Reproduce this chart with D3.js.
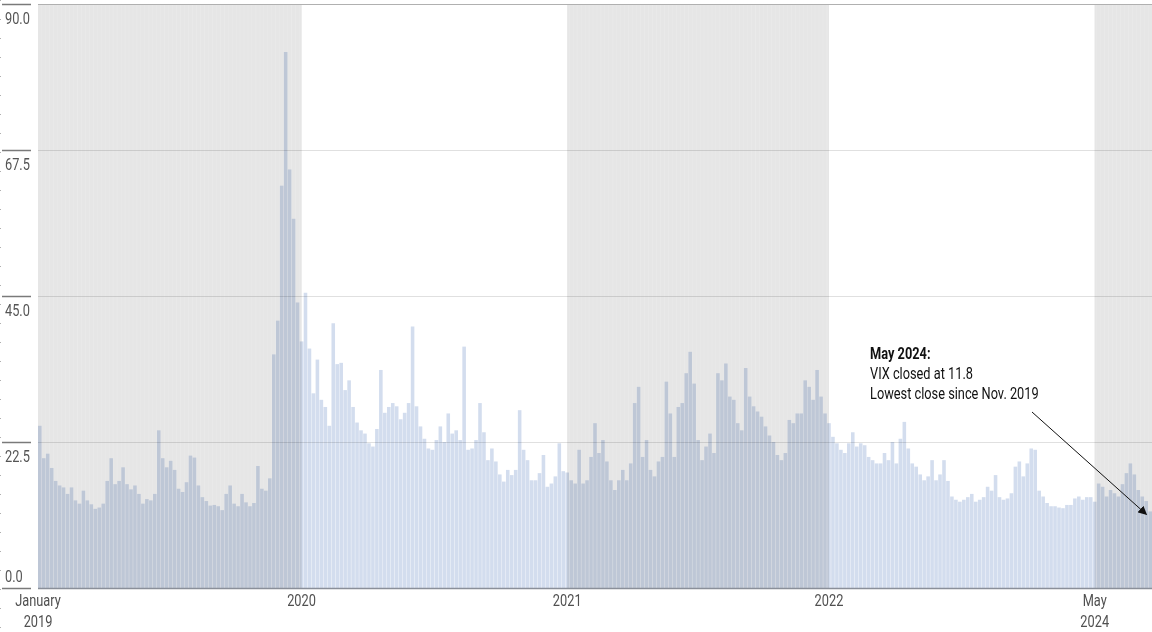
<!DOCTYPE html>
<html>
<head>
<meta charset="utf-8">
<script src="https://cdn.jsdelivr.net/npm/d3@7"></script>
<style>
  html, body { margin: 0; padding: 0; background: #fff; }
  svg { display: block; }
  text { font-family: "Roboto", "Liberation Sans", sans-serif; }
</style>
</head>
<body>
<svg id="chart" width="1152" height="632"></svg>
<script>
// Weekly VIX closes (approx.), Jan 2019 – May 2024
const vixWeekly = [
  25, 20, 20.7, 18.5, 16.5, 15.8, 15.5, 14.5, 15.5, 13.5,
  13, 15, 13.5, 12.9, 12.2, 12.4, 13, 16.5, 20, 16,
  16.5, 18.6, 16, 15.2, 15.8, 14.5, 13, 13.7, 13.5, 14.5,
  24.3, 20, 18.6, 19.6, 18.2, 15.3, 14.8, 16.3, 20.4, 20.1,
  15.8, 14, 13.4, 12.7, 12.8, 12.6, 12, 14.5, 15.8, 13,
  12.6, 14.5, 13.2, 12.6, 13.1, 18.8, 15.3, 15, 16.9, 36,
  41.2, 62, 82.6, 64.5, 56.9, 44, 38, 45.5, 36.9, 30,
  35.2, 29, 27.9, 25, 40.8, 34.5, 34.7, 30.5, 32, 27.9,
  25.5, 24.3, 23.8, 22.3, 21.8, 24.5, 33.6, 27, 27.9, 28.5,
  28, 26, 27, 28.5, 40.3, 28, 24.9, 23, 21.5, 21.3,
  22.8, 24.9, 22.5, 26.9, 23.8, 24.3, 22.8, 37.2, 21.3, 21.5,
  22.8, 28.5, 24, 19.7, 21.5, 19.5, 17.5, 16.4, 18.2, 17.4,
  18.2, 27.4, 21.3, 19.7, 16.6, 16.6, 17.7, 20.5, 15.6, 16.1,
  17.2, 22.3, 18, 17.8, 16.6, 16.1, 21.3, 16.1, 16.6, 20.2,
  25.4, 20.8, 22.8, 19.5, 16.6, 15.1, 16.6, 18.2, 16.6, 19.2,
  28.5, 31, 20.2, 22.8, 18.2, 17.2, 19.5, 20.2, 31.8, 26.9,
  20.2, 27.9, 28.5, 33.1, 36.4, 31.5, 22.8, 19.7, 21.8, 23.8,
  20.8, 33.1, 32, 34.6, 29.5, 29, 25.4, 24.3, 33.9, 29.5,
  28, 27.2, 26.4, 24.9, 23.5, 22.5, 20.5, 19.7, 20.8, 25.9,
  25.4, 26.9, 26.9, 32, 31, 29, 33.6, 29.5, 26.9, 25.4,
  23.3, 22.3, 21.3, 20.8, 22.3, 24, 21.8, 22.3, 22, 20.2,
  19.7, 19.2, 19.2, 20.8, 19.7, 22.5, 19.2, 23, 25.6, 21.5,
  19.2, 18.7, 17.5, 16.6, 17.2, 19.7, 16.6, 17.5, 19.7, 16.5,
  14.1, 13.6, 13.3, 13.6, 14, 14.5, 13.3, 13.6, 14, 15.6,
  15, 17.4, 14, 13.6, 13.8, 14.6, 18.7, 19.5, 17.2, 19.2,
  21.5, 21.3, 15, 14.1, 13.1, 12.6, 12.6, 12.4, 12.3, 12.8,
  12.8, 13.8, 14.1, 13.6, 14, 14, 13.3, 16.1, 15.6, 14.1,
  15.1, 14.6, 14.1, 16, 17.7, 19.2, 17.5, 15.1, 14.1, 13.4,
  11.8
];
// x-axis category ticks (week index) and their labels
const tickWeeks = [0, 66, 133, 199, 266];
const tickLabels = [["January", "2019"], ["2020"], ["2021"], ["2022"], ["May", "2024"]];
// y-axis ticks
const yTicks = [0, 22.5, 45, 67.5, 90];
const annotationLines = ["May 2024:", "VIX closed at 11.8", "Lowest close since Nov. 2019"];

const svg = d3.select("#chart");
const W = 1152, H = 632;
const plotLeft = 38, plotRight = 1152, plotTop = 4, plotBottom = 588;
const CONDENSE = 0.8;

const idx = d3.range(vixWeekly.length);
const x = d3.scaleBand().domain(idx).range([plotLeft, plotRight]).paddingInner(0.1).paddingOuter(0);
const y = d3.scaleLinear().domain([0, 90]).range([plotBottom, plotTop]);
const tickX = i => tickWeeks[i] === 0 ? plotLeft : x(tickWeeks[i]) + x.bandwidth() / 2;

// condensed text helper
function condText(g, px, py, lines, opts) {
  const t = g.append("text")
    .attr("transform", `translate(${px},${py}) scale(${CONDENSE},1)`)
    .attr("font-size", opts.size || 16)
    .attr("fill", opts.fill || "#555")
    .attr("text-anchor", opts.anchor || "start");
  lines.forEach((line, j) => {
    t.append("tspan").attr("x", 0).attr("dy", j === 0 ? 0 : (opts.lh || 20))
      .attr("font-weight", opts.boldFirst && j === 0 ? "bold" : "normal")
      .text(line);
  });
  return t;
}

// faint dotted guide at far left
svg.append("line")
  .attr("x1", 0.5).attr("x2", 0.5).attr("y1", 0).attr("y2", H)
  .attr("stroke", "#b0b0b0").attr("stroke-dasharray", "1 18");

// shaded periods: alternate segments between ticks
const bandEdges = tickWeeks.map((t, i) => tickX(i)).concat([plotRight]);
const bands = [];
for (let i = 0; i < bandEdges.length - 1; i += 2) bands.push([bandEdges[i], bandEdges[i + 1]]);

const defs = svg.append("defs");
const clip = defs.append("clipPath").attr("id", "bandClip");
clip.selectAll("rect").data(bands).join("rect")
  .attr("x", d => d[0]).attr("width", d => d[1] - d[0])
  .attr("y", y(90)).attr("height", y(0) - y(90));

// background band (striped through per-bar rects)
const bandG = svg.append("g").attr("clip-path", "url(#bandClip)");
bandG.append("rect").attr("x", plotLeft).attr("width", plotRight - plotLeft)
  .attr("y", y(90)).attr("height", y(0) - y(90)).attr("fill", "#ececec");
bandG.selectAll("rect.s").data(idx).join("rect").attr("class", "s")
  .attr("x", d => x(d)).attr("width", x.bandwidth())
  .attr("y", y(90)).attr("height", y(0) - y(90))
  .attr("fill", "#e6e6e6");

// value bars (multiply so they darken over shaded bands)
svg.append("g").selectAll("rect")
  .data(vixWeekly)
  .join("rect")
  .attr("x", (d, i) => x(i))
  .attr("width", x.bandwidth())
  .attr("y", d => y(d))
  .attr("height", d => y(0) - y(d))
  .attr("fill", "#d3ddee")
  .style("mix-blend-mode", "multiply");

// gridlines
svg.append("g").selectAll("line")
  .data(yTicks.filter(v => v > 0 && v < 90))
  .join("line")
  .attr("x1", plotLeft).attr("x2", plotRight)
  .attr("y1", d => y(d) + 0.5).attr("y2", d => y(d) + 0.5)
  .attr("stroke", "#000").attr("stroke-opacity", 0.12);

svg.append("line")
  .attr("x1", plotLeft).attr("x2", plotRight)
  .attr("y1", y(90) + 0.5).attr("y2", y(90) + 0.5)
  .attr("stroke", "#b0b0b0").attr("stroke-width", 1.2);

// y axis ticks and labels
const yAxis = svg.append("g");
yAxis.selectAll("line")
  .data(yTicks)
  .join("line")
  .attr("x1", 2).attr("x2", 31)
  .attr("y1", d => y(d) + 0.5).attr("y2", d => y(d) + 0.5)
  .attr("stroke", "#7a7a7a").attr("stroke-width", 1.5);
yTicks.forEach(v => {
  condText(yAxis, 5, v === 0 ? y(v) - 6 : y(v) + 20, [d3.format(".1f")(v)], { size: 16, fill: "#555" });
});

// x axis line
svg.append("line")
  .attr("x1", plotLeft).attr("x2", plotRight)
  .attr("y1", plotBottom + 0.5).attr("y2", plotBottom + 0.5)
  .attr("stroke", "#8a8f99").attr("stroke-width", 1.5);

// x tick labels
const xg = svg.append("g");
tickWeeks.forEach((t, i) => {
  condText(xg, tickX(i), 606, tickLabels[i], { size: 16, fill: "#505050", anchor: "middle", lh: 21 });
});

// annotation
condText(svg, 870, 359, annotationLines, { size: 16, fill: "#111", lh: 20, boldFirst: true });

// arrow
defs.append("marker")
  .attr("id", "arrowhead").attr("viewBox", "0 0 10 10")
  .attr("refX", 9).attr("refY", 5)
  .attr("markerWidth", 9).attr("markerHeight", 9)
  .attr("markerUnits", "userSpaceOnUse")
  .attr("orient", "auto")
  .append("path").attr("d", "M0,0 L10,5 L0,10 Z").attr("fill", "#111");
const lastI = vixWeekly.length - 1;
svg.append("line")
  .attr("x1", 1032).attr("y1", 412)
  .attr("x2", x(lastI) - 2).attr("y2", y(vixWeekly[lastI]) + 3)
  .attr("stroke", "#111").attr("stroke-width", 1)
  .attr("marker-end", "url(#arrowhead)");
</script>
</body>
</html>
